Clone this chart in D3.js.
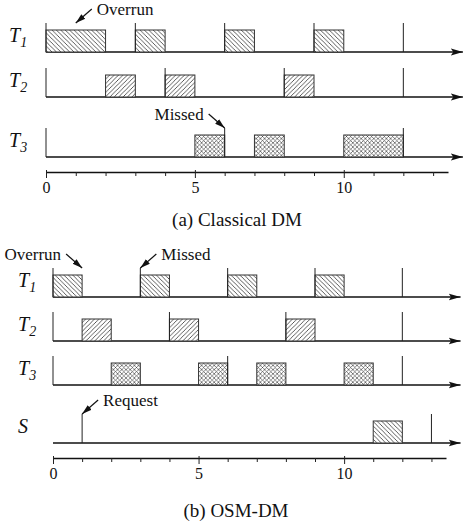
<!DOCTYPE html>
<html>
<head>
<meta charset="utf-8">
<script src="https://cdn.jsdelivr.net/npm/d3@7"></script>
<style>
body { margin: 0; background: #fff; }
text { font-family: "Liberation Serif", "Times New Roman", serif; fill: #111; }
</style>
</head>
<body>
<div id="chart"></div>
<script>
// time axis
const timeTicks = d3.range(0, 14);
const tickLabels = [0, 5, 10];

// (a) Classical DM
const tasksA = ["T1", "T2", "T3"];
const jobsA = [
    ["T1", 0, 2], ["T1", 3, 4], ["T1", 6, 7], ["T1", 9, 10],
    ["T2", 2, 3], ["T2", 4, 5], ["T2", 8, 9],
    ["T3", 5, 6], ["T3", 7, 8], ["T3", 10, 12]
];
const releasesA = [
    ["T1", 0], ["T1", 3], ["T1", 6], ["T1", 9], ["T1", 12],
    ["T2", 0], ["T2", 4], ["T2", 8], ["T2", 12],
    ["T3", 0], ["T3", 6], ["T3", 12]
];
const notesA = [
    ["Overrun", "T1", 1, "ne"],
    ["Missed", "T3", 6, "nw"]
];

// (b) OSM-DM
const tasksB = ["T1", "T2", "T3", "S"];
const jobsB = [
    ["T1", 0, 1], ["T1", 3, 4], ["T1", 6, 7], ["T1", 9, 10],
    ["T2", 1, 2], ["T2", 4, 5], ["T2", 8, 9],
    ["T3", 2, 3], ["T3", 5, 6], ["T3", 7, 8], ["T3", 10, 11],
    ["S", 11, 12]
];
const releasesB = [
    ["T1", 0], ["T1", 3], ["T1", 6], ["T1", 9], ["T1", 12],
    ["T2", 0], ["T2", 4], ["T2", 8], ["T2", 12],
    ["T3", 0], ["T3", 6], ["T3", 12],
    ["S", 1], ["S", 13]
];
const notesB = [
    ["Overrun", "T1", 1, "nw"],
    ["Missed", "T1", 3, "ne"],
    ["Request", "S", 1, "ne"]
];

const width = 463, height = 525;
const barH = 22, releaseH = 29;

const svg = d3.select("#chart")
    .append("svg")
    .attr("width", width)
    .attr("height", height);

const defs = svg.append("defs");

function hatch(id, size, paths, sw) {
    const p = defs.append("pattern")
        .attr("id", id)
        .attr("patternUnits", "userSpaceOnUse")
        .attr("width", size)
        .attr("height", size);
    p.append("rect").attr("width", size).attr("height", size).attr("fill", "#fff");
    paths.forEach(d => p.append("path").attr("d", d).attr("stroke", "#333").attr("stroke-width", sw));
}
const s = 4.4, c = 4.2;
const fwd = `M0,${s}L${s},0M-1,1L1,-1M${s - 1},${s + 1}L${s + 1},${s - 1}`;
const back = `M0,0L${s},${s}M-1,${s - 1}L1,${s + 1}M${s - 1},-1L${s + 1},1`;
hatch("fwd", s, [fwd], 0.8);
hatch("back", s, [back], 0.8);
hatch("cross", c, [
    `M0,${c}L${c},0M-1,1L1,-1M${c - 1},${c + 1}L${c + 1},${c - 1}`,
    `M0,0L${c},${c}M-1,${c - 1}L1,${c + 1}M${c - 1},-1L${c + 1},1`
], 0.6);

const patternOf = d3.scaleOrdinal()
    .domain(["T1", "T2", "T3", "S"])
    .range(["url(#back)", "url(#fwd)", "url(#cross)", "url(#back)"]);

defs.append("marker")
    .attr("id", "axisHead")
    .attr("markerUnits", "userSpaceOnUse")
    .attr("viewBox", "0 -4 12 8")
    .attr("refX", 12).attr("refY", 0)
    .attr("markerWidth", 12).attr("markerHeight", 8)
    .attr("orient", "auto")
    .append("path").attr("d", "M0,-3.5L12,0L0,3.5L2.5,0Z").attr("fill", "#111");

defs.append("marker")
    .attr("id", "noteHead")
    .attr("markerUnits", "userSpaceOnUse")
    .attr("viewBox", "0 -4 10 8")
    .attr("refX", 10).attr("refY", 0)
    .attr("markerWidth", 10).attr("markerHeight", 8)
    .attr("orient", "auto")
    .append("path").attr("d", "M0,-3L10,0L0,3Z").attr("fill", "#111");

function drawPanel(cfg) {
    const g = svg.append("g");

    const x = d3.scaleLinear().domain([0, 13.5]).range(cfg.xRange);
    const y = d3.scaleOrdinal().domain(cfg.tasks).range(cfg.rowY);

    // timelines
    g.selectAll(".timeline")
        .data(cfg.tasks)
        .enter()
        .append("line")
        .attr("x1", x(0))
        .attr("x2", x(14))
        .attr("y1", d => y(d))
        .attr("y2", d => y(d))
        .attr("stroke", "#111")
        .attr("stroke-width", 1.4)
        .attr("marker-end", "url(#axisHead)");

    // jobs
    g.selectAll(".job")
        .data(cfg.jobs)
        .enter()
        .append("rect")
        .attr("x", d => x(d[1]))
        .attr("y", d => y(d[0]) - barH)
        .attr("width", d => x(d[2]) - x(d[1]))
        .attr("height", barH)
        .attr("fill", d => patternOf(d[0]))
        .attr("stroke", "#333")
        .attr("stroke-width", 1);

    // release marks
    g.selectAll(".release")
        .data(cfg.releases)
        .enter()
        .append("line")
        .attr("x1", d => x(d[1]))
        .attr("x2", d => x(d[1]))
        .attr("y1", d => y(d[0]) - releaseH)
        .attr("y2", d => y(d[0]))
        .attr("stroke", "#222")
        .attr("stroke-width", 1);

    // task labels
    const lab = g.selectAll(".label")
        .data(cfg.tasks)
        .enter()
        .append("text")
        .attr("x", cfg.labelX)
        .attr("y", d => y(d) - 10)
        .attr("font-size", 20)
        .attr("font-style", "italic");
    lab.append("tspan").text(d => d[0]);
    lab.append("tspan")
        .attr("font-size", 14)
        .attr("dy", 5)
        .text(d => d.slice(1));

    // time axis
    const axis = g.append("g")
        .attr("transform", `translate(0,${cfg.axisY})`)
        .call(d3.axisBottom(x)
            .tickValues(timeTicks)
            .tickSize(4)
            .tickSizeOuter(0)
            .tickFormat(d => tickLabels.includes(d) ? d : ""));
    axis.select(".domain").attr("stroke", "#111").attr("stroke-width", 1.3);
    axis.selectAll(".tick line")
        .attr("stroke", "#222")
        .attr("y1", d => tickLabels.includes(d) ? -2 : 0)
        .attr("y2", d => tickLabels.includes(d) ? 6 : 4);
    axis.selectAll(".tick text")
        .attr("y", 21)
        .attr("dy", 0)
        .attr("font-size", 16)
        .attr("font-family", "Liberation Serif, serif")
        .attr("fill", "#111");

    // annotations
    cfg.notes.forEach(n => {
        const tipX = x(n[2]);
        const tipY = y(n[1]) - releaseH;
        const dir = n[3] === "ne" ? 1 : -1;
        const tailX = tipX + dir * 16;
        const tailY = tipY - 14;
        g.append("line")
            .attr("x1", tailX).attr("y1", tailY)
            .attr("x2", tipX).attr("y2", tipY)
            .attr("stroke", "#111")
            .attr("stroke-width", 1.2)
            .attr("marker-end", "url(#noteHead)");
        g.append("text")
            .attr("x", tailX + dir * 5)
            .attr("y", tailY + 6)
            .attr("text-anchor", dir > 0 ? "start" : "end")
            .attr("font-size", 17)
            .text(n[0]);
    });

    // caption
    svg.append("text")
        .attr("x", cfg.captionX)
        .attr("y", cfg.captionY)
        .attr("text-anchor", "middle")
        .attr("font-size", 19)
        .text(cfg.caption);
}

drawPanel({
    tasks: tasksA, jobs: jobsA, releases: releasesA, notes: notesA,
    xRange: [46, 448], rowY: [52, 97, 157], axisY: 172,
    labelX: 9, caption: "(a) Classical DM", captionX: 237, captionY: 226
});

drawPanel({
    tasks: tasksB, jobs: jobsB, releases: releasesB, notes: notesB,
    xRange: [53, 446], rowY: [297, 341, 385, 443], axisY: 458,
    labelX: 18, caption: "(b) OSM-DM", captionX: 236, captionY: 517
});
</script>
</body>
</html>
